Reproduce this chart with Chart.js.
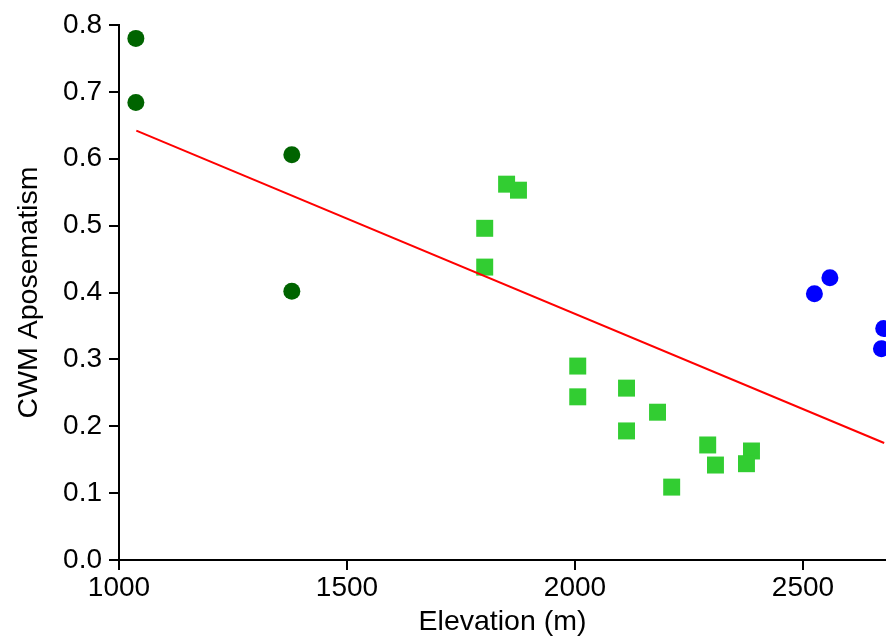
<!DOCTYPE html>
<html>
<head>
<meta charset="utf-8">
<script src="https://cdn.jsdelivr.net/npm/chart.js"></script>
<style>
  html, body { margin: 0; padding: 0; background: #fff; }
  #wrap { width: 886px; height: 639px; }
</style>
</head>
<body>
<div id="wrap"><canvas id="chart" width="886" height="639"></canvas></div>
<script>
// low elevation sites (dark green circles)
const lowX = [1037, 1037, 1379, 1379];
const lowY = [0.780, 0.684, 0.606, 0.402];

// mid elevation sites (green squares)
const midX = [1850, 1876, 1802, 1802, 2006, 2006, 2113, 2113, 2181, 2291, 2308, 2387, 2376, 2212];
const midY = [0.562, 0.553, 0.496, 0.438, 0.290, 0.244, 0.257, 0.193, 0.221, 0.172, 0.142, 0.163, 0.144, 0.109];

// high elevation sites (blue circles)
const highX = [2559, 2525, 2677, 2672];
const highY = [0.422, 0.398, 0.346, 0.316];

// fitted regression line
const fitX = [1038, 2678];
const fitY = [0.642, 0.175];

const xTicks = [1000, 1500, 2000, 2500];
const yTicks = [0, 0.1, 0.2, 0.3, 0.4, 0.5, 0.6, 0.7, 0.8];

const toPoints = (xs, ys) => xs.map((x, i) => ({ x: x, y: ys[i] }));

const family = '"Liberation Sans", Arial, sans-serif';
const tickFont = { family: family, size: 28 };
const titleFont = { family: family, size: 28.5 };

new Chart(document.getElementById('chart'), {
  type: 'scatter',
  data: {
    datasets: [
      {
        type: 'line',
        data: toPoints(fitX, fitY),
        borderColor: '#ff0000',
        borderWidth: 2,
        pointRadius: 0,
        fill: false,
        order: 1
      },
      {
        data: toPoints(lowX, lowY),
        backgroundColor: '#006400',
        borderWidth: 0,
        pointRadius: 8.5,
        pointStyle: 'circle',
        order: 2
      },
      {
        data: toPoints(midX, midY),
        backgroundColor: '#32cd32',
        borderWidth: 0,
        pointRadius: 12,
        pointStyle: 'rect',
        order: 2
      },
      {
        data: toPoints(highX, highY),
        backgroundColor: '#0000ff',
        borderWidth: 0,
        pointRadius: 8.5,
        pointStyle: 'circle',
        order: 2
      }
    ]
  },
  options: {
    responsive: false,
    animation: false,
    layout: { autoPadding: false, padding: { top: 25, right: 0, bottom: 0, left: 0 } },
    plugins: {
      legend: { display: false },
      tooltip: { enabled: false }
    },
    datasets: { scatter: { clip: false }, line: { clip: false } },
    scales: {
      x: {
        type: 'linear',
        min: 1000,
        max: 2682,
        afterBuildTicks: (scale) => { scale.ticks = xTicks.map(v => ({ value: v })); },
        afterFit: (scale) => {
          scale.height = 79;
          scale.paddingLeft = 0;
          scale.paddingRight = 0;
        },
        ticks: { color: '#000', font: tickFont, padding: 1, maxRotation: 0, callback: (v) => String(v) },
        grid: { drawOnChartArea: false, drawTicks: true, tickLength: 10, color: '#000', lineWidth: 2 },
        border: { display: true, color: '#000', width: 2 },
        title: { display: true, text: 'Elevation (m)', color: '#000', font: titleFont, padding: { top: 4, bottom: 0 } }
      },
      y: {
        type: 'linear',
        min: 0,
        max: 0.8,
        afterBuildTicks: (scale) => { scale.ticks = yTicks.map(v => ({ value: v })); },
        afterFit: (scale) => { scale.width = 119; },
        ticks: { color: '#000', font: tickFont, padding: 7, callback: (v) => Number(v).toFixed(1) },
        grid: { drawOnChartArea: false, drawTicks: true, tickLength: 10, color: '#000', lineWidth: 2 },
        border: { display: true, color: '#000', width: 2 },
        title: { display: true, text: 'CWM Aposematism', color: '#000', font: titleFont, padding: { top: 12, bottom: 0 } }
      }
    }
  }
});
</script>
</body>
</html>
